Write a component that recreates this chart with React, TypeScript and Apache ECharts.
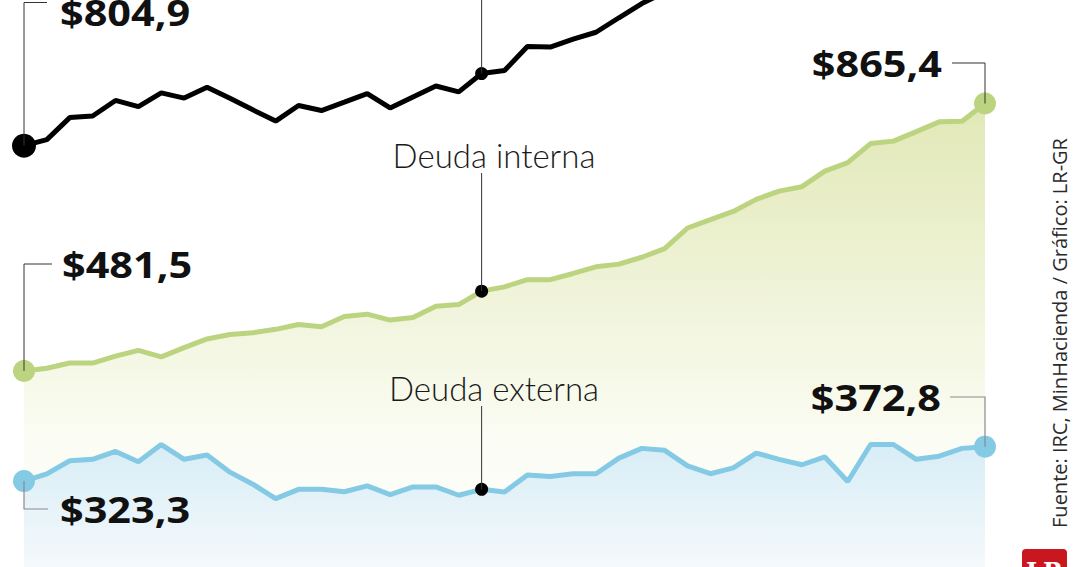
import React, { useEffect, useRef } from "react";
import * as echarts from "echarts";

// 43 periods (monthly observations)
const periods = Array.from({ length: 43 }, (_, i) => String(i + 1));

// Deuda total (line leaves the top of the picture after index 27)
const totalDebt = [
  804.9, 813.6, 845.2, 847.5, 869.8, 861.0, 880.7, 873.2, 888.6, 872.8,
  856.3, 840.2, 862.5, 855.3, 867.3, 879.7, 859.0, 874.8, 890.6, 882.1,
  908.4, 912.7, 947.2, 946.5, 957.8, 967.7, 988.5, 1008.9, 1025.0,
];

const internalDebt = [
  481.5, 485.3, 492.8, 492.8, 502.7, 511.0, 501.7, 515.0, 527.4, 533.8,
  536.3, 541.2, 548.2, 544.8, 559.5, 563.0, 554.5, 558.1, 574.3, 576.8,
  596.0, 602.2, 612.5, 612.5, 621.4, 630.9, 634.8, 644.7, 657.0, 686.7,
  698.7, 710.4, 727.8, 739.6, 746.0, 768.3, 780.6, 807.9, 811.4, 825.1,
  839.1, 840.0, 865.4,
];

const externalDebt = [
  323.3, 333.7, 352.5, 354.6, 365.9, 351.0, 375.8, 354.6, 360.9, 336.2,
  318.9, 298.1, 311.5, 311.5, 308.0, 316.4, 304.0, 314.9, 314.9, 303.0,
  311.5, 307.6, 332.2, 330.0, 333.9, 333.9, 356.3, 370.3, 367.5, 345.1,
  333.9, 342.3, 363.6, 354.6, 346.8, 358.0, 322.7, 375.9, 375.9, 354.6,
  359.1, 370.3, 372.8,
];

const startLabels = ["$804,9", "$481,5", "$323,3"];
const endLabels = ["$865,4", "$372,8"];
const seriesNames = ["Deuda interna", "Deuda externa"];
const sourceText = "Fuente: IRC, MinHacienda / Gráfico: LR-GR";
const MID = 20;

const GREEN = "#bcd480";
const BLUE = "#84cae5";
const FONT = "'Open Sans', 'Noto Sans', sans-serif";

export default function App() {
  const ref = useRef<HTMLDivElement>(null);

  useEffect(() => {
    const chart = echarts.init(ref.current!, null, { renderer: "svg" });
    const last = internalDebt.length - 1;
    chart.setOption({
      animation: false,
      grid: { left: 24, right: 95, top: 0, bottom: 0 },
      xAxis: { type: "category", data: periods, boundaryGap: false, show: false },
      yAxis: { type: "value", min: 200, max: 1014, show: false },
      series: [
        {
          name: seriesNames[0],
          type: "line",
          data: internalDebt,
          symbol: "none",
          lineStyle: { color: GREEN, width: 5 },
          areaStyle: {
            color: new echarts.graphic.LinearGradient(0, 0, 0, 1, [
              { offset: 0, color: "#e1e8b6" },
              { offset: 0.72, color: "#fbfcf3" },
              { offset: 1, color: "#ffffff" },
            ]),
            opacity: 1,
          },
          z: 2,
        },
        {
          name: seriesNames[1],
          type: "line",
          data: externalDebt,
          symbol: "none",
          lineStyle: { color: BLUE, width: 5 },
          areaStyle: {
            color: new echarts.graphic.LinearGradient(0, 0, 0, 1, [
              { offset: 0, color: "#d8edf6" },
              { offset: 1, color: "#f4f9fc" },
            ]),
            opacity: 1,
          },
          z: 3,
        },
        {
          name: "Deuda total",
          type: "line",
          data: totalDebt,
          symbol: "none",
          lineStyle: { color: "#000000", width: 5 },
          z: 4,
        },
        {
          type: "scatter",
          symbolSize: 24,
          itemStyle: { color: "#000000", opacity: 1 },
          data: [[0, totalDebt[0]]],
          z: 5,
        },
        {
          type: "scatter",
          symbolSize: 22,
          itemStyle: { color: GREEN, opacity: 1 },
          data: [[0, internalDebt[0]], [last, internalDebt[last]]],
          z: 5,
        },
        {
          type: "scatter",
          symbolSize: 22,
          itemStyle: { color: BLUE, opacity: 1 },
          data: [[0, externalDebt[0]], [last, externalDebt[last]]],
          z: 5,
        },
        {
          type: "scatter",
          symbolSize: 13,
          itemStyle: { color: "#000000", opacity: 1 },
          data: [
            [MID, totalDebt[MID]],
            [MID, internalDebt[MID]],
            [MID, externalDebt[MID]],
          ],
          z: 6,
        },
      ],
    });

    const px = (i: number, v: number) =>
      chart.convertToPixel({ gridIndex: 0 }, [i, v]) as number[];
    const t0 = px(0, totalDebt[0]);
    const i0 = px(0, internalDebt[0]);
    const e0 = px(0, externalDebt[0]);
    const iN = px(last, internalDebt[last]);
    const eN = px(last, externalDebt[last]);
    const tM = px(MID, totalDebt[MID]);
    const iM = px(MID, internalDebt[MID]);
    const eM = px(MID, externalDebt[MID]);

    const dark = { stroke: "#333333", lineWidth: 1, fill: null };
    const grey = { stroke: "#8a8a8a", lineWidth: 1.2, fill: null };
    const big = (x: number, y: number, text: string, align: string) => ({
      type: "text",
      x,
      y,
      scaleX: 1.15,
      z: 20,
      style: {
        text,
        fill: "#111111",
        font: `bold 36px ${FONT}`,
        align,
        verticalAlign: "middle",
      },
    });
    const light = (x: number, y: number, text: string) => ({
      type: "text",
      x,
      y,
      z: 20,
      style: {
        text,
        fill: "#1a1a1a",
        font: `300 33px Lato, ${FONT}`,
        align: "center",
        verticalAlign: "middle",
      },
    });

    chart.setOption({
      graphic: [
        { type: "polyline", z: 10, shape: { points: [[t0[0], t0[1]], [t0[0], 2.5], [47, 2.5]] }, style: dark },
        big(60, 12, startLabels[0], "left"),
        { type: "polyline", z: 10, shape: { points: [[i0[0], i0[1]], [i0[0], 264], [52, 264]] }, style: dark },
        big(62, 264, startLabels[1], "left"),
        { type: "polyline", z: 10, shape: { points: [[e0[0], e0[1]], [e0[0], 509], [48, 509]] }, style: grey },
        big(60, 509, startLabels[2], "left"),
        { type: "polyline", z: 10, shape: { points: [[iN[0], iN[1]], [iN[0], 63], [952, 63]] }, style: dark },
        big(942, 63, endLabels[0], "right"),
        { type: "polyline", z: 10, shape: { points: [[eN[0], eN[1]], [eN[0], 397], [950, 397]] }, style: grey },
        big(941, 397, endLabels[1], "right"),
        { type: "line", z: 10, shape: { x1: tM[0], y1: 0, x2: tM[0], y2: tM[1] }, style: dark },
        light(494, 155, seriesNames[0]),
        { type: "line", z: 10, shape: { x1: iM[0], y1: 173, x2: iM[0], y2: iM[1] }, style: dark },
        light(494, 388, seriesNames[1]),
        { type: "line", z: 10, shape: { x1: eM[0], y1: 406, x2: eM[0], y2: eM[1] }, style: dark },
        {
          type: "text",
          x: 1059,
          y: 333,
          rotation: Math.PI / 2,
          z: 20,
          style: {
            text: sourceText,
            fill: "#2a2a2a",
            font: `20px ${FONT}`,
            align: "center",
            verticalAlign: "middle",
          },
        },
        {
          type: "rect",
          z: 20,
          shape: { x: 1022, y: 549, width: 45, height: 30, r: 4 },
          style: { fill: "#c8171e" },
        },
        {
          type: "text",
          x: 1044.5,
          y: 559,
          z: 21,
          style: {
            text: "LR",
            fill: "#ffffff",
            font: `bold 24px 'DejaVu Serif', serif`,
            align: "center",
            verticalAlign: "top",
          },
        },
      ],
    });

    return () => chart.dispose();
  }, []);

  return (
    <div
      ref={ref}
      style={{ position: "fixed", left: 0, top: 0, width: 1080, height: 567, background: "#ffffff" }}
    />
  );
}
